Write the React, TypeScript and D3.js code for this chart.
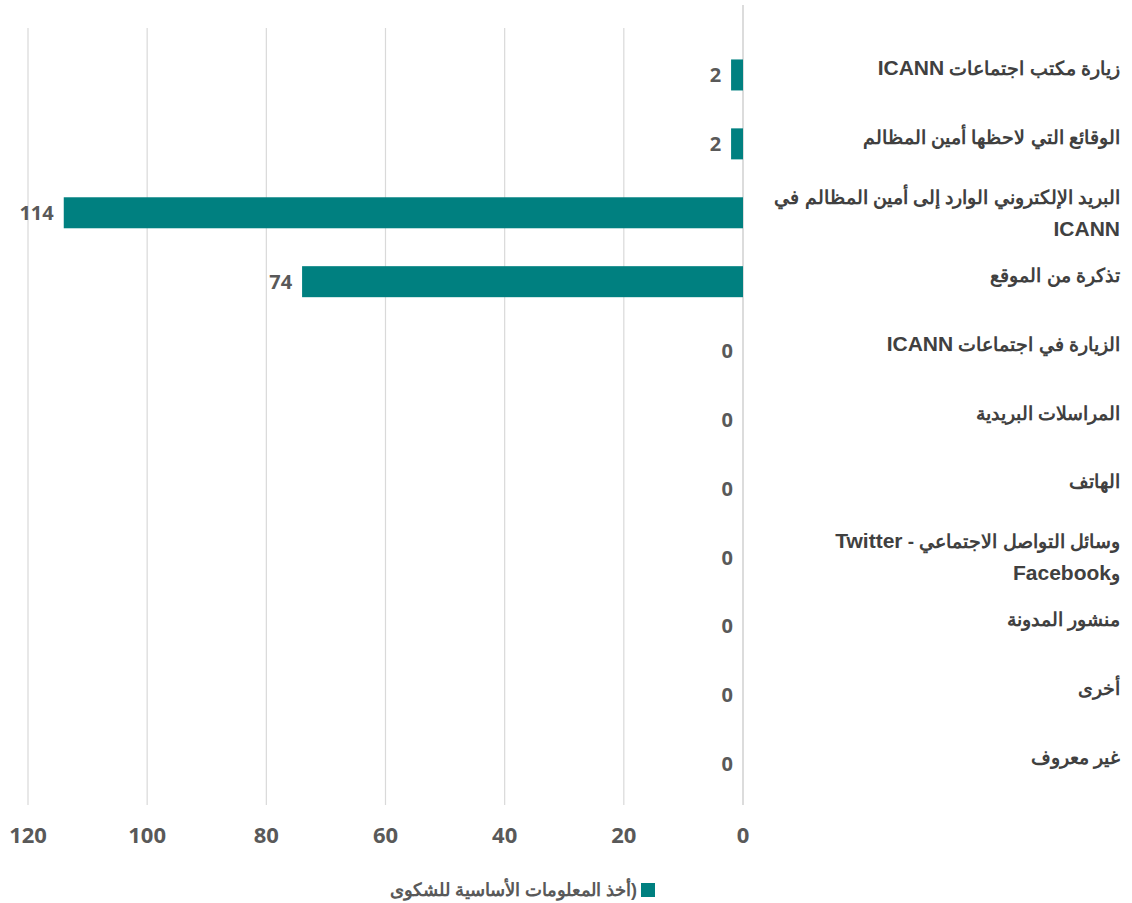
import * as d3 from 'd3'

// categories, top to bottom (each entry is a list of wrapped lines)
const categories: string[][] = [
  ['زيارة مكتب اجتماعات ICANN'],
  ['الوقائع التي لاحظها أمين المظالم'],
  ['البريد الإلكتروني الوارد إلى أمين المظالم في', 'ICANN'],
  ['تذكرة من الموقع'],
  ['الزيارة في اجتماعات ICANN'],
  ['المراسلات البريدية'],
  ['الهاتف'],
  ['وسائل التواصل الاجتماعي - Twitter', 'وFacebook'],
  ['منشور المدونة'],
  ['أخرى'],
  ['غير معروف'],
]
const values = [2, 2, 114, 74, 0, 0, 0, 0, 0, 0, 0]
const xTicks = [0, 20, 40, 60, 80, 100, 120]
const seriesName = '(أخذ المعلومات الأساسية للشكوى'

const width = 1132
const height = 903
const barColor = '#008080'
const numFont = '"Open Sans", "Noto Sans", sans-serif'
const labelFont = '"Liberation Sans", sans-serif'

// Latin words in the labels are drawn a little larger, as in the original
const splitRuns = (s: string) =>
  s.split(/([A-Za-z]+(?:\s[A-Za-z]+)*)/).filter(p => p.length > 0)

export default function App() {
  const x = d3.scaleLinear().domain([0, 120]).range([743, 28])
  const y = d3
    .scaleBand<number>()
    .domain(d3.range(categories.length))
    .range([40.5, 798.5])
    .paddingInner(0.55)
    .paddingOuter(0.275)

  const bw = y.bandwidth()

  return (
    <svg
      width={width}
      height={height}
      style={{ position: 'absolute', left: 0, top: 0, background: '#fff' }}
    >
      {/* grid */}
      {xTicks.map(t => (
        <line
          key={t}
          x1={x(t)}
          x2={x(t)}
          y1={t === 0 ? 5 : 28}
          y2={805}
          stroke={t === 0 ? '#d0d0d0' : '#d9d9d9'}
          strokeWidth={t === 0 ? 1.5 : 1.2}
        />
      ))}

      {/* bars */}
      {values.map((v, i) => (
        <rect
          key={i}
          x={x(v)}
          y={y(i)!}
          width={x(0) - x(v)}
          height={bw}
          fill={barColor}
        />
      ))}

      {/* value labels */}
      {values.map((v, i) => (
        <text
          key={i}
          x={x(v) - 10}
          y={y(i)! + bw / 2}
          dy="0.36em"
          textAnchor="end"
          fontFamily={numFont}
          fontWeight={700}
          fontSize={20}
          fill="#595959"
        >
          {v}
        </text>
      ))}

      {/* category labels */}
      {categories.map((lines, i) => {
        const cy = y(i)! + bw / 2
        const lh = 32
        const top = lines.length > 1 ? cy - lh / 2 : cy - 7
        return (
          <text
            key={i}
            x={1120}
            textAnchor="start"
            style={{ direction: 'rtl' }}
            fontFamily={labelFont}
            fontWeight={700}
            fontSize={19}
            fill="#404040"
          >
            {lines.map((l, j) => (
              <tspan key={j} x={1120} y={top + j * lh + 7}>
                {splitRuns(l).map((p, k) =>
                  /[A-Za-z]/.test(p) ? (
                    <tspan key={k} fontSize={21}>
                      {p}
                    </tspan>
                  ) : (
                    <tspan key={k}>{p}</tspan>
                  )
                )}
              </tspan>
            ))}
          </text>
        )
      })}

      {/* x axis labels */}
      {xTicks.map(t => (
        <text
          key={t}
          x={x(t)}
          y={835}
          dy="0.36em"
          textAnchor="middle"
          fontFamily={numFont}
          fontWeight={700}
          fontSize={22}
          fill="#595959"
        >
          {t}
        </text>
      ))}

      {/* legend */}
      <rect x={641} y={883} width={14} height={14} fill={barColor} />
      <text
        x={637}
        y={890}
        dy="0.36em"
        textAnchor="start"
        style={{ direction: 'rtl' }}
        fontFamily={labelFont}
        fontWeight={700}
        fontSize={18}
        fill="#595959"
      >
        {seriesName}
      </text>
    </svg>
  )
}
